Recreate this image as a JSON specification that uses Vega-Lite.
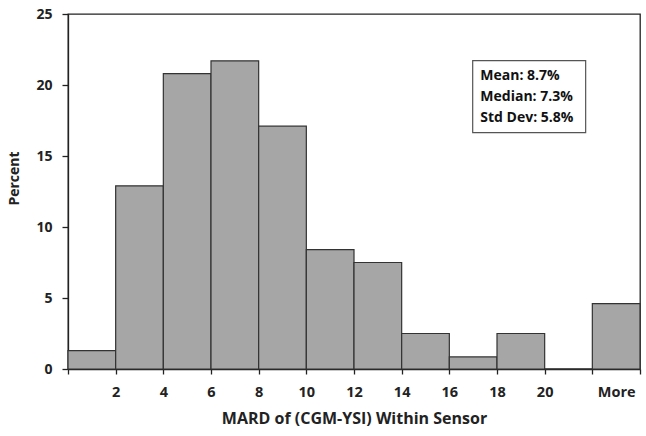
{
  "$schema": "https://vega.github.io/schema/vega-lite/v6.json",
  "width": 572,
  "height": 355,
  "autosize": {"type": "none"},
  "padding": {"left": 68, "top": 14, "right": 6, "bottom": 67},
  "background": "white",
  "config": {
    "view": {"stroke": "#222", "strokeWidth": 1.3},
    "font": "Open Sans",
    "axis": {
      "grid": false,
      "domainColor": "#222",
      "domainWidth": 1.3,
      "tickColor": "#222",
      "tickWidth": 1.3,
      "labelColor": "#222",
      "titleColor": "#222",
      "labelFont": "Open Sans",
      "titleFont": "Open Sans",
      "labelFontWeight": "bold",
      "titleFontWeight": "bold"
    }
  },
  "layer": [
    {
      "data": {
        "values": [
          {"lo": 0, "hi": 2, "pct": 1.3},
          {"lo": 2, "hi": 4, "pct": 12.9},
          {"lo": 4, "hi": 6, "pct": 20.8},
          {"lo": 6, "hi": 8, "pct": 21.7},
          {"lo": 8, "hi": 10, "pct": 17.1},
          {"lo": 10, "hi": 12, "pct": 8.4},
          {"lo": 12, "hi": 14, "pct": 7.5},
          {"lo": 14, "hi": 16, "pct": 2.5},
          {"lo": 16, "hi": 18, "pct": 0.85},
          {"lo": 18, "hi": 20, "pct": 2.5},
          {"lo": 20, "hi": 22, "pct": 0},
          {"lo": 22, "hi": 24, "pct": 4.6}
        ]
      },
      "mark": {"type": "rect", "fill": "#a6a6a6", "stroke": "#333", "strokeWidth": 1.2},
      "encoding": {
        "x": {
          "field": "lo",
          "type": "quantitative",
          "scale": {"domain": [0, 24], "nice": false, "zero": false},
          "axis": {
            "values": [0, 2, 4, 6, 8, 10, 12, 14, 16, 18, 20, 22, 24, 23],
            "labelExpr": "datum.value == 23 ? 'More' : (datum.value >= 2 && datum.value <= 20 ? datum.label : '')",
            "labelOverlap": false,
            "labelFlush": false,
            "labelBound": false,
            "labelFontSize": 14.5,
            "tickSize": 5,
            "labelPadding": 11,
            "tickOpacity": {"condition": {"test": "datum.value == 23", "value": 0}, "value": 1},
            "title": "MARD of (CGM-YSI) Within Sensor",
            "titleFontSize": 16,
            "titlePadding": 12
          }
        },
        "x2": {"field": "hi"},
        "y": {
          "field": "pct",
          "type": "quantitative",
          "scale": {"domain": [0, 25], "nice": false},
          "axis": {
            "values": [0, 5, 10, 15, 20, 25],
            "labelFontSize": 14,
            "tickSize": 6,
            "labelPadding": 10,
            "title": "Percent",
            "titleFontSize": 14,
            "titleX": -47,
            "titleY": 164
          }
        },
        "y2": {"datum": 0}
      }
    },
    {
      "data": {"values": [{}]},
      "mark": {"type": "rect", "fill": "white", "stroke": "#555", "strokeWidth": 1.2},
      "encoding": {
        "x": {"datum": 16.98, "type": "quantitative"},
        "x2": {"datum": 21.72},
        "y": {"datum": 21.71, "type": "quantitative"},
        "y2": {"datum": 16.64}
      }
    },
    {
      "data": {"values": [{}]},
      "mark": {
        "type": "text",
        "text": ["Mean: 8.7%", "Median: 7.3%", "Std Dev: 5.8%"],
        "align": "left",
        "baseline": "middle",
        "fontSize": 14,
        "fontWeight": "bold",
        "font": "Open Sans",
        "lineHeight": 20.7,
        "color": "#111"
      },
      "encoding": {
        "x": {"datum": 17.3, "type": "quantitative"},
        "y": {"datum": 20.6, "type": "quantitative"}
      }
    }
  ]
}
